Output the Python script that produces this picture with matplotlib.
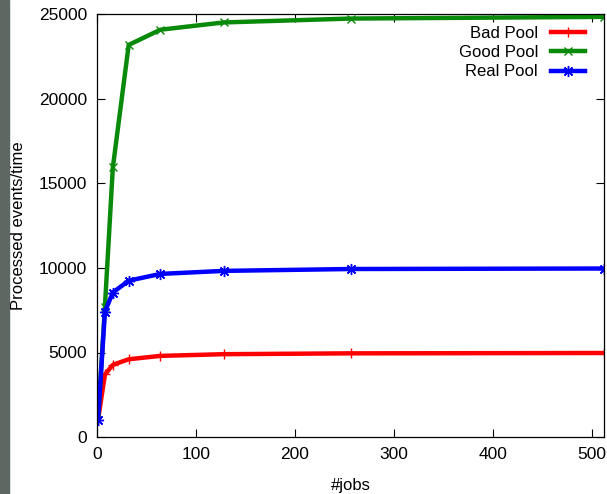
import matplotlib
matplotlib.use('Agg')
import matplotlib.pyplot as plt
from matplotlib.patches import Rectangle

plt.rcParams['font.family'] = ['Liberation Sans', 'DejaVu Sans']

jobs = [1, 8, 16, 32, 64, 128, 256, 512]
bad_pool = [1000, 3700, 4270, 4600, 4800, 4900, 4950, 4970]
good_pool = [1000, 7720, 15950, 23200, 24100, 24530, 24760, 24860]
real_pool = [1000, 7420, 8550, 9250, 9650, 9830, 9940, 9970]

fig = plt.figure(figsize=(6.07, 4.94), dpi=100)
ax = fig.add_axes([97 / 607, 1 - 437 / 494, (604 - 97) / 607, (437 - 14.5) / 494])

# dark strip of the original screenshot at the left edge
fig.patches.append(Rectangle((0, 0), 9 / 607, 1, transform=fig.transFigure,
                             color='#5d6863', zorder=-1))

ax.plot(jobs, bad_pool, color='#ff0000', lw=3.2, marker='+', ms=7, mew=1, label='Bad Pool')
ax.plot(jobs, good_pool, color='#0a8a0a', lw=3.2, marker='x', ms=6, mew=1, label='Good Pool')
ax.plot(jobs, real_pool, color='#0000ff', lw=3.2, marker=(8, 2, 0), ms=8, mew=1, label='Real Pool')

ax.set_xlim(0, 512)
ax.set_ylim(0, 25000)
ax.set_xticks([0, 100, 200, 300, 400, 500])
ax.set_yticks([0, 5000, 10000, 15000, 20000, 25000])
ax.tick_params(direction='in', length=6, width=0.8, top=True, right=True,
               labelsize=12.5, pad=7)
for s in ax.spines.values():
    s.set_linewidth(0.9)

ax.set_xlabel('#jobs', fontsize=12, labelpad=12)
ax.set_ylabel('Processed events/time', fontsize=12, labelpad=9)

ax.legend(loc='upper right', frameon=False, markerfirst=False, fontsize=12,
          handlelength=2.0, handletextpad=0.8, labelspacing=0.25,
          borderaxespad=0.3, bbox_to_anchor=(0.985, 1.0))

fig.savefig('out.png', dpi=100)
